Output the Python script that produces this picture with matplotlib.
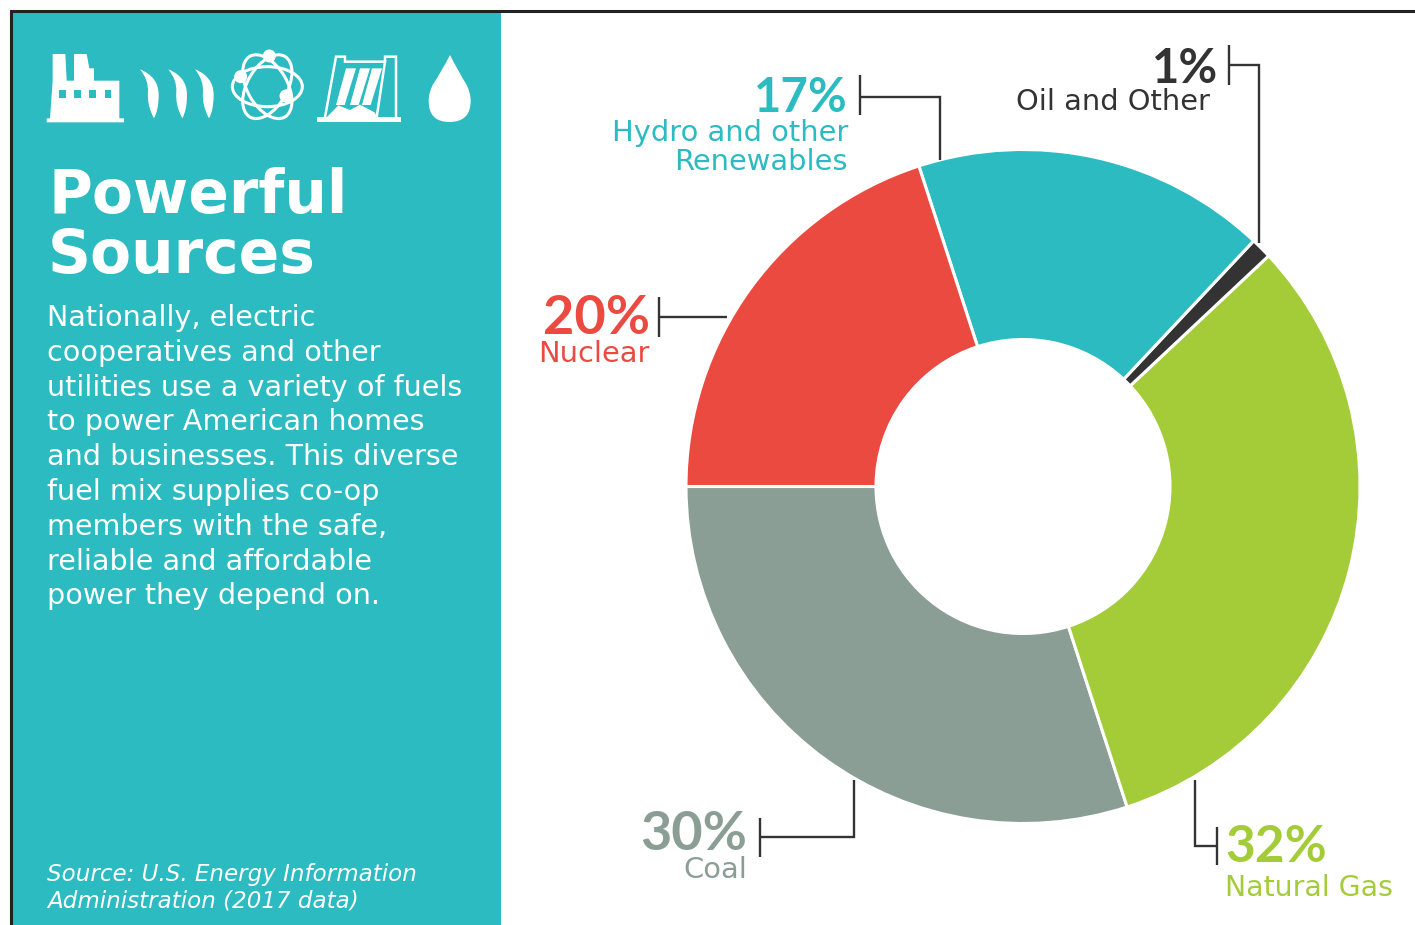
"""Fuel mix donut card: teal text panel on the left, labelled donut on the right."""

import matplotlib
matplotlib.use('Agg')
import matplotlib.pyplot as plt
from matplotlib.patches import Circle, Ellipse, PathPatch, Polygon, Rectangle
from matplotlib.path import Path

W, H = 1415, 925

TEAL = '#2bbbc0'
RED = '#eb4a40'
GRAY = '#8b9e96'
GREEN = '#a4cc39'
INK = '#333333'
FRAME = '#222222'

# pie runs counterclockwise from 9 o'clock
sources = ['Coal', 'Natural Gas', 'Oil and Other', 'Hydro and other Renewables', 'Nuclear']
shares = [30, 32, 1, 17, 20]
colors = [GRAY, GREEN, INK, TEAL, RED]

body_lines = [
    'Nationally, electric',
    'cooperatives and other',
    'utilities use a variety of fuels',
    'to power American homes',
    'and businesses. This diverse',
    'fuel mix supplies co-op',
    'members with the safe,',
    'reliable and affordable',
    'power they depend on.',
]

FONT = 'DejaVu Sans'
PCT_FONT = 'Lato'
LABEL_SIZE = 20.8


def px(x, y):
    return x, H - y


def z(x, y):
    # icon coordinates measured on a 3x crop starting at (30, 30)
    return px(30 + x / 3, 30 + y / 3)


def text(ax, x, y, s, size, color, weight='normal', ha='left', style='normal', family=FONT):
    ax.text(*px(x, y), s, fontsize=size, color=color, weight=weight, ha=ha,
            va='baseline', style=style, family=family)


def pct(ax, x, y, s, color, size, ha='right'):
    text(ax, x, y, s, size, color, weight='bold', ha=ha, family=PCT_FONT)


def line(ax, pts, color=INK, lw=1.7):
    xs, ys = zip(*[px(*p) for p in pts])
    ax.plot(xs, ys, color=color, lw=lw, solid_capstyle='butt', solid_joinstyle='miter')


def crescent(ax, x0):
    verts = [z(x0, 118), z(x0 + 56, 140), z(x0 + 56, 195), z(x0 + 56, 240), z(x0 + 42, 265),
             z(x0 + 20, 225), z(x0 + 24, 185), z(x0 + 26, 150), z(x0, 118)]
    codes = [Path.MOVETO] + [Path.CURVE3] * 8
    ax.add_patch(PathPatch(Path(verts, codes), fc='white', ec='none'))


def draw_icons(ax):
    # factory
    factory = [(50, 277), (50, 265), (60, 265), (68, 152), (68, 72), (106, 72), (110, 152),
               (132, 152), (132, 72), (170, 72), (178, 115), (192, 115), (192, 152), (268, 152),
               (268, 265), (282, 265), (282, 277)]
    ax.add_patch(Polygon([z(*p) for p in factory], fc='white', ec='none'))
    for wx in (88, 132, 177, 224):
        x, y = z(wx, 205)
        ax.add_patch(Rectangle((x, y), 20 / 3, 25 / 3, fc=TEAL, ec='none'))

    # steam
    for x0 in (330, 415, 495):
        crescent(ax, x0)

    # atom
    cx, cy = z(712, 170)
    for angle in (30, 90, 150):
        ax.add_patch(Ellipse((cx, cy), 70, 40, angle=angle + 90, fc='none', ec='white', lw=2.2))
    for nx, ny in ((718, 78), (632, 140), (768, 198)):
        ax.add_patch(Circle(z(nx, ny), 6.5, fc='white', ec='none'))

    # dam
    dam = [(885, 262), (918, 80), (945, 80), (945, 95), (1065, 95), (1065, 80), (1098, 80), (1098, 262)]
    xs, ys = zip(*[z(*p) for p in dam])
    ax.plot(xs, ys, color='white', lw=1.8, solid_joinstyle='miter')
    xs, ys = zip(z(1065, 95), z(1040, 262))
    ax.plot(xs, ys, color='white', lw=1.8)
    x, y = z(860, 277)
    ax.add_patch(Rectangle((x, y), 252 / 3, 15 / 3, fc='white', ec='none'))
    for x0 in (948, 990, 1026):
        fall = [z(x0, 115), z(x0 + 30, 115), z(x0 - 4, 225), z(x0 - 30, 225)]
        ax.add_patch(Polygon(fall, fc='white', ec='none'))
    mound = [(890, 262), (925, 226), (960, 240), (990, 224), (1035, 248), (1040, 262)]
    ax.add_patch(Polygon([z(*p) for p in mound], fc='white', ec='none'))

    # drop
    verts = [z(1260, 75), z(1236, 122), z(1208, 165), z(1196, 188), z(1196, 213), z(1196, 276),
             z(1258, 276), z(1322, 276), z(1322, 213), z(1322, 188), z(1310, 165), z(1284, 122),
             z(1260, 75)]
    codes = [Path.MOVETO] + [Path.CURVE3] * 12
    ax.add_patch(PathPatch(Path(verts, codes), fc='white', ec='none'))


def main():
    fig = plt.figure(figsize=(W / 100, H / 100), dpi=100, facecolor='white')
    ax = fig.add_axes([0, 0, 1, 1])

    # donut
    ax.pie(shares, colors=colors, startangle=180, center=px(1023, 486.5), radius=337,
           frame=False, wedgeprops=dict(width=190, edgecolor='white', linewidth=2.2))
    ax.set_xlim(0, W)
    ax.set_ylim(0, H)
    ax.set_aspect('auto')
    ax.axis('off')

    # panel and frame
    ax.add_patch(Rectangle((11, 0), 490, H - 11, fc=TEAL, ec='none'))
    line(ax, [(10.5, H), (10.5, 11), (W, 11)], color=FRAME, lw=2.2)

    draw_icons(ax)

    text(ax, 48, 213, 'Powerful', 43, 'white', weight='bold')
    text(ax, 48, 273, 'Sources', 43, 'white', weight='bold')
    for i, s in enumerate(body_lines):
        text(ax, 47, 326 + i * 34.8, s, 20.6, 'white')
    text(ax, 47, 881, 'Source: U.S. Energy Information', 16.6, 'white', style='italic')
    text(ax, 47, 907, 'Administration (2017 data)', 16.6, 'white', style='italic')

    # labels and leaders
    pct(ax, 848, 112, '17%', TEAL, 34)
    text(ax, 848, 141, 'Hydro and other', LABEL_SIZE, TEAL, ha='right')
    text(ax, 848, 170, 'Renewables', LABEL_SIZE, TEAL, ha='right')
    line(ax, [(860, 75), (860, 115)])
    line(ax, [(860, 97), (940, 97), (940, 160)])

    pct(ax, 1218, 83, '1%', INK, 34)
    text(ax, 1210, 110, 'Oil and Other', LABEL_SIZE, INK, ha='right')
    line(ax, [(1229, 45), (1229, 85)])
    line(ax, [(1229, 65), (1259, 65), (1259, 243)])

    pct(ax, 650, 334, '20%', RED, 39)
    text(ax, 650, 362, 'Nuclear', LABEL_SIZE, RED, ha='right')
    line(ax, [(659, 297), (659, 337)])
    line(ax, [(659, 317), (727, 317)])

    pct(ax, 747, 850, '30%', GRAY, 39)
    text(ax, 747, 878, 'Coal', LABEL_SIZE, GRAY, ha='right')
    line(ax, [(760, 818), (760, 857)])
    line(ax, [(760, 837), (854, 837), (854, 780)])

    pct(ax, 1225, 862, '32%', GREEN, 37, ha='left')
    text(ax, 1225, 896, 'Natural Gas', 20.4, GREEN)
    line(ax, [(1217, 827), (1217, 865)])
    line(ax, [(1217, 846), (1195, 846), (1195, 780)])

    fig.savefig('out.png', dpi=100, facecolor='white')
    plt.close(fig)


if __name__ == '__main__':
    main()
